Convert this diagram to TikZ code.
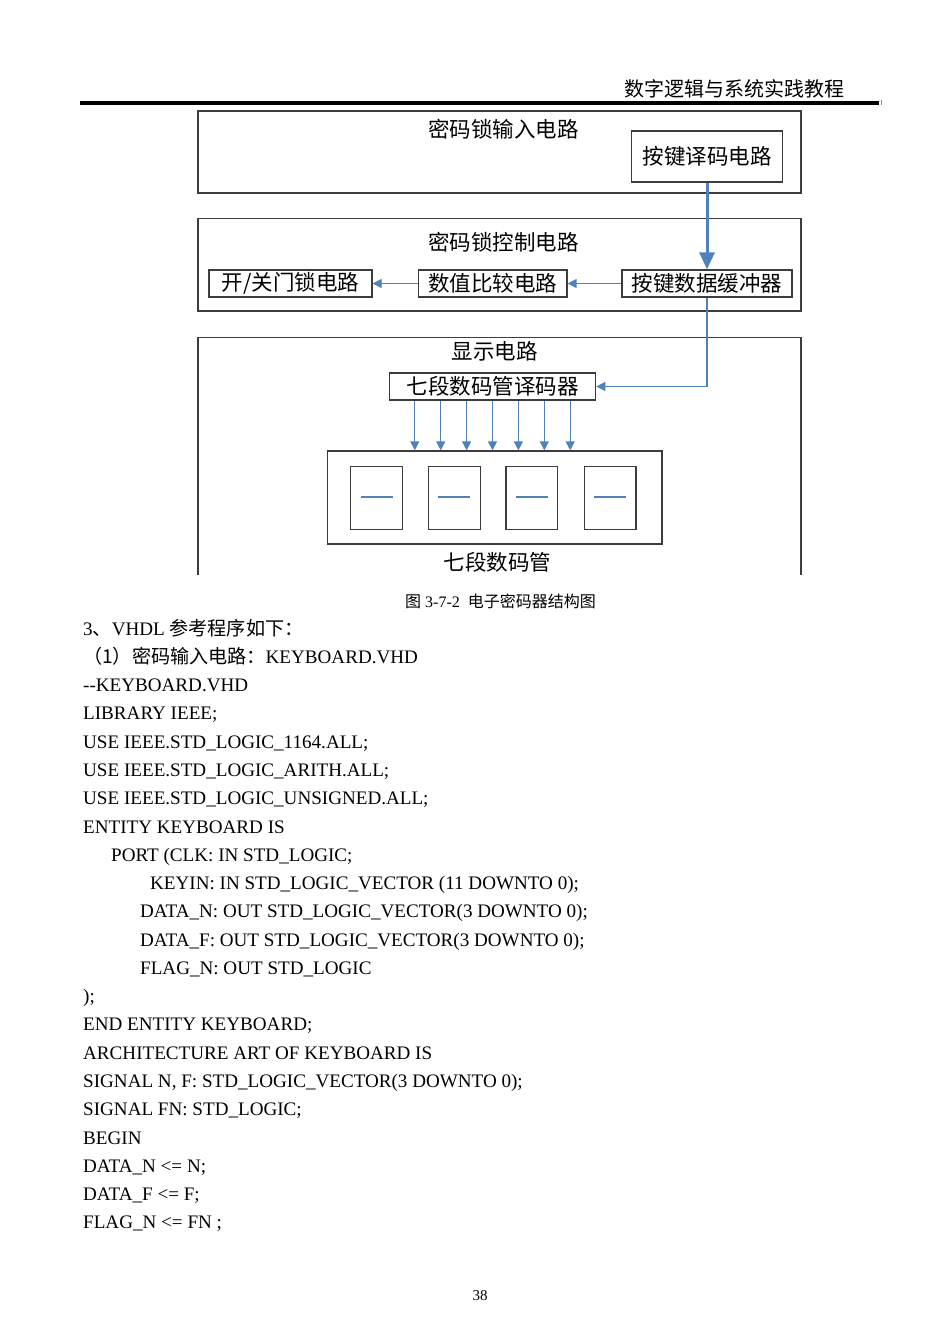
\documentclass[tikz,border=0pt]{standalone}
\usepackage{fontspec}
\setmainfont{Liberation Serif}
\newfontfamily\cjk{Noto Sans CJK SC}
\usetikzlibrary{arrows.meta,calc}
\definecolor{arrblue}{RGB}{79,129,189}
\definecolor{boxgray}{RGB}{60,60,60}
\begin{document}
\begin{tikzpicture}[x=1pt,y=-1pt,
  box/.style={draw=boxgray, line width=1.3pt, inner sep=0pt},
  lbl/.style={font=\fontsize{21.5}{24}\selectfont\cjk, inner sep=0pt},
  arr/.style={draw=arrblue, line width=1.3pt, -{Triangle[length=9pt,width=9pt]}},
  bigarr/.style={draw=arrblue, line width=3pt, -{Triangle[length=17pt,width=15pt]}},
  code/.style={anchor=base west, inner sep=0pt, font=\fontsize{19.1}{21}\selectfont},
  seg/.style={draw=arrblue, line width=2.2pt}
]
\useasboundingbox[fill=white] (0,0) rectangle (950,1343);

% header
\node[anchor=base east, inner sep=0pt, font=\fontsize{20}{22}\selectfont\cjk] (hdr) at (845,97) {数字逻辑与系统实践教程};
\draw[line width=4.3pt] (80,103) -- (879,103);
\draw[black!45, line width=0.8pt] (881,100.5) -- (881,105.5);

% input circuit
\node[box, minimum width=603pt, minimum height=82pt] (inbox) at (499.5,152) {};
\node[lbl] (intitle) at (503.5,129) {密码锁输入电路};
\node[box, lbl, minimum width=150.5pt, minimum height=51pt] (kd) at (707,156.5) {按键译码电路};

% control circuit
\node[box, minimum width=603pt, minimum height=92.5pt] (ctrlbox) at (499.5,264.8) {};
\node[lbl] (ctrltitle) at (503.5,242.5) {密码锁控制电路};
\node[box, lbl, minimum width=163pt, minimum height=27pt] (lock) at (290.5,283.5) {开/关门锁电路};
\node[box, lbl, minimum width=148.7pt, minimum height=27pt] (cmp) at (492.6,283.5) {数值比较电路};
\node[box, lbl, minimum width=170pt, minimum height=27pt] (buf) at (707,283.5) {按键数据缓冲器};

\draw[bigarr] (kd.south) -- (kd.south |- buf.north);
\draw[arr] (buf.west) -- (cmp.east);
\draw[arr] (cmp.west) -- (lock.east);

% display circuit
\coordinate (dbl) at (198,575);
\coordinate (dtl) at (198,337.5);
\coordinate (dtr) at (801,337.5);
\coordinate (dbr) at (801,575);
\draw[boxgray, line width=1.3pt] (dbl) -- (dtl) -- (dtr) -- (dbr);
\node[lbl] (disptitle) at (494.5,351) {显示电路};
\node[box, lbl, minimum width=206.3pt, minimum height=27pt] (dec) at (492.5,386.5) {七段数码管译码器};
\draw[arr] (buf.south) |- (dec.east);

\node[box, minimum width=334.2pt, minimum height=93pt] (disp) at (494.9,497.5) {};
\foreach \k in {-3,...,3}
  \draw[arr] ([xshift=\k*25.9pt]dec.south) -- ([xshift=\k*25.9pt]dec.south |- disp.north);

\foreach \n/\cx in {d1/376.6, d2/454.4, d3/531.9, d4/610.1}{
  \node[box, minimum width=51.6pt, minimum height=62.6pt] (\n) at (\cx,498) {};
  \draw[seg] ([xshift=-16pt,yshift=1pt]\n.center) -- ([xshift=16pt,yshift=1pt]\n.center);
}
\node[lbl] (displbl) at (497.5,562) {七段数码管};

% caption
\node[anchor=base, inner sep=0pt, font=\fontsize{16}{18}\selectfont] (cap) at (500.5,607) {{\cjk 图} 3-7-2\ \ {\cjk 电子密码器结构图}};

% code
\node[code] (l0)  at (83,635)    {3{\cjk 、}VHDL {\cjk 参考程序如下：}};
\node[code] (l1)  at (83,663.3)  {{\cjk （1）密码输入电路：}KEYBOARD.VHD};
\node[code] (l2)  at (83,691.6)  {-{}-KEYBOARD.VHD};
\node[code] (l3)  at (83,719.8)  {LIBRARY IEEE;};
\node[code] (l4)  at (83,748.1)  {USE IEEE.STD\_LOGIC\_1164.ALL;};
\node[code] (l5)  at (83,776.4)  {USE IEEE.STD\_LOGIC\_ARITH.ALL;};
\node[code] (l6)  at (83,804.7)  {USE IEEE.STD\_LOGIC\_UNSIGNED.ALL;};
\node[code] (l7)  at (83,833.0)  {ENTITY KEYBOARD IS};
\node[code] (l8)  at (111,861.2) {PORT (CLK: IN STD\_LOGIC;};
\node[code] (l9)  at (150,889.5) {KEYIN: IN STD\_LOGIC\_VECTOR (11 DOWNTO 0);};
\node[code] (l10) at (140,917.8) {DATA\_N: OUT STD\_LOGIC\_VECTOR(3 DOWNTO 0);};
\node[code] (l11) at (140,946.1) {DATA\_F: OUT STD\_LOGIC\_VECTOR(3 DOWNTO 0);};
\node[code] (l12) at (140,974.4) {FLAG\_N: OUT STD\_LOGIC};
\node[code] (l13) at (83,1002.6)  {);};
\node[code] (l14) at (83,1030.9)  {END ENTITY KEYBOARD;};
\node[code] (l15) at (83,1059.2)  {ARCHITECTURE ART OF KEYBOARD IS};
\node[code] (l16) at (83,1087.5)  {SIGNAL N, F: STD\_LOGIC\_VECTOR(3 DOWNTO 0);};
\node[code] (l17) at (83,1115.8)  {SIGNAL FN: STD\_LOGIC;};
\node[code] (l18) at (83,1144.0)  {BEGIN};
\node[code] (l19) at (83,1172.3)  {DATA\_N <= N;};
\node[code] (l20) at (83,1200.6)  {DATA\_F <= F;};
\node[code] (l21) at (83,1228.9)  {FLAG\_N <= FN ;};

% page number
\node[anchor=base, inner sep=0pt, font=\fontsize{15}{17}\selectfont] (pg) at (480,1300) {38};
\end{tikzpicture}
\end{document}
